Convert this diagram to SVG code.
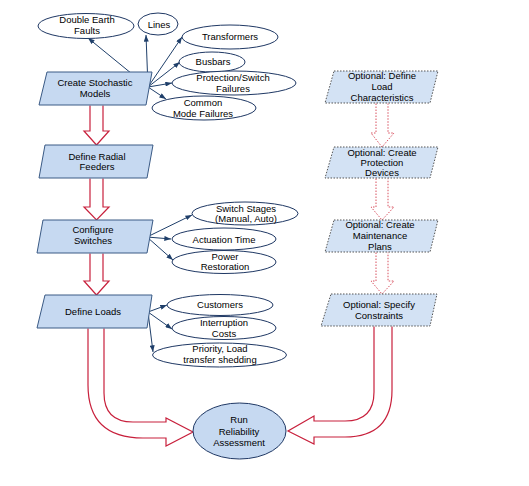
<svg xmlns="http://www.w3.org/2000/svg" width="529" height="486" viewBox="0 0 529 486">
<defs>
<marker id="ah" viewBox="0 0 8 6" refX="8" refY="3" markerWidth="7" markerHeight="5" markerUnits="userSpaceOnUse" orient="auto">
<path d="M0,0 L8,3 L0,6 Z" fill="#1F3F6A"/>
</marker>
</defs>
<style>
text{font-family:"Liberation Sans",Arial,sans-serif;font-size:9.5px;fill:#000;text-anchor:middle}
.step{fill:#C6D9F1;stroke:#3A5A85;stroke-width:1}
.opt{fill:#D3E2F4;stroke:#555;stroke-width:1;stroke-dasharray:1.5 1.5}
.ell{fill:#fff;stroke:#1F3864;stroke-width:1}
.run{fill:#C6D9F1;stroke:#1F3864;stroke-width:1}
.link{stroke:#1F3F6A;stroke-width:1;fill:none;marker-end:url(#ah)}
.big{fill:#fff;stroke:#C8203C;stroke-width:1.2;stroke-linejoin:miter}
.dot{fill:#fff;stroke:#D8505F;stroke-width:1;stroke-dasharray:1.5 1.5}
</style>
<rect width="529" height="486" fill="#fff"/>

<g id="connectors">
<path class="big" d="M90,105.5 V131 H84 L96.5,145 L109,131 H103 V105.5"/>
<path class="big" d="M90,178.5 V207 H84 L96.5,220 L109,207 H103 V178.5"/>
<path class="big" d="M90,253.5 V281 H84 L96.5,295 L109,281 H103 V253.5"/>
<path class="big" d="M88,328.5 V385 Q88,438 143,438 H166 V446 L193,432 L166,418 V422 H133 Q104,422 104,393 V328.5"/>
<path class="big" d="M374,326.5 V392 Q374,421 345,421 H314 V416 L288,431 L314,444 V437 H345 Q392,437 392,390 V326.5"/>
<path class="dot" d="M376,103.5 V133 H371 L382,147 L394,133 H388 V103.5"/>
<path class="dot" d="M376,178.5 V207 H371 L382,220 L394,207 H388 V178.5"/>
<path class="dot" d="M376,252.5 V281 H371 L382,294 L394,281 H388 V252.5"/>
<line class="link" x1="148" y1="87" x2="88" y2="38"/>
<line class="link" x1="148" y1="87" x2="146" y2="35"/>
<line class="link" x1="148" y1="87" x2="182" y2="37"/>
<line class="link" x1="148" y1="87" x2="180" y2="62"/>
<line class="link" x1="148" y1="87" x2="172" y2="83"/>
<line class="link" x1="148" y1="87" x2="166" y2="99"/>
<line class="link" x1="147" y1="237" x2="192" y2="215"/>
<line class="link" x1="147" y1="237" x2="171" y2="239"/>
<line class="link" x1="147" y1="237" x2="173" y2="260"/>
<line class="link" x1="148" y1="312" x2="167" y2="305"/>
<line class="link" x1="148" y1="312" x2="172" y2="329"/>
<line class="link" x1="148" y1="312" x2="153" y2="352"/>
</g>

<g id="create-stochastic-models">
<polygon class="step" points="47,72 152,72 146,105 39,105"/>
<text x="95" y="86">Create Stochastic</text>
<text x="95" y="97">Models</text>
</g>
<g id="double-earth-faults">
<ellipse class="ell" cx="86" cy="26" rx="48" ry="12.5"/>
<text x="87" y="23">Double Earth</text>
<text x="87" y="34">Faults</text>
</g>
<g id="lines">
<ellipse class="ell" cx="158" cy="24" rx="20" ry="11"/>
<text x="159" y="28">Lines</text>
</g>
<g id="transformers">
<ellipse class="ell" cx="230" cy="37" rx="48" ry="12"/>
<text x="230" y="40">Transformers</text>
</g>
<g id="busbars">
<ellipse class="ell" cx="212" cy="62" rx="33" ry="10"/>
<text x="213" y="65">Busbars</text>
</g>
<g id="protection-switch-failures">
<ellipse class="ell" cx="234" cy="83" rx="62" ry="12"/>
<text x="233" y="81">Protection/Switch</text>
<text x="233" y="92">Failures</text>
</g>
<g id="common-mode-failures">
<ellipse class="ell" cx="204" cy="108" rx="52" ry="12"/>
<text x="203" y="106">Common</text>
<text x="203" y="117">Mode Failures</text>
</g>

<g id="define-radial-feeders">
<polygon class="step" points="45,145 153,145 147,178 39,178"/>
<text x="97" y="160">Define Radial</text>
<text x="97" y="170">Feeders</text>
</g>

<g id="configure-switches">
<polygon class="step" points="43,220 153,220 147,253 37,253"/>
<text x="93" y="233">Configure</text>
<text x="93" y="244">Switches</text>
</g>
<g id="switch-stages">
<ellipse class="ell" cx="245" cy="213.5" rx="53" ry="11.5"/>
<text x="246" y="212">Switch Stages</text>
<text x="246" y="222">(Manual, Auto)</text>
</g>
<g id="actuation-time">
<ellipse class="ell" cx="224" cy="239" rx="52" ry="11"/>
<text x="224" y="243">Actuation Time</text>
</g>
<g id="power-restoration">
<ellipse class="ell" cx="224" cy="262" rx="52" ry="11.5"/>
<text x="225" y="260">Power</text>
<text x="225" y="270">Restoration</text>
</g>

<g id="define-loads">
<polygon class="step" points="45,295 152,295 147,328 37,328"/>
<text x="93" y="315">Define Loads</text>
</g>
<g id="customers">
<ellipse class="ell" cx="220" cy="305" rx="53" ry="10.5"/>
<text x="220" y="308">Customers</text>
</g>
<g id="interruption-costs">
<ellipse class="ell" cx="224" cy="328" rx="52" ry="11.5"/>
<text x="224" y="326">Interruption</text>
<text x="224" y="337">Costs</text>
</g>
<g id="priority-load-transfer-shedding">
<ellipse class="ell" cx="219.5" cy="355" rx="67" ry="12"/>
<text x="220" y="352">Priority, Load</text>
<text x="220" y="363">transfer shedding</text>
</g>

<g id="optional-define-load-characteristics">
<polygon class="opt" points="334,71 438,71 430,103 325,103"/>
<text x="382" y="79">Optional: Define</text>
<text x="382" y="90">Load</text>
<text x="382" y="101">Characteristics</text>
</g>
<g id="optional-create-protection-devices">
<polygon class="opt" points="334,147 438,147 430,178 325,178"/>
<text x="382" y="156">Optional: Create</text>
<text x="382" y="166">Protection</text>
<text x="382" y="176">Devices</text>
</g>
<g id="optional-create-maintenance-plans">
<polygon class="opt" points="334,220 438,220 430,252 325,252"/>
<text x="380" y="228">Optional: Create</text>
<text x="380" y="239">Maintenance</text>
<text x="380" y="250">Plans</text>
</g>
<g id="optional-specify-constraints">
<polygon class="opt" points="331,294 437,294 430,326 321,326"/>
<text x="379" y="308">Optional: Specify</text>
<text x="379" y="319">Constraints</text>
</g>

<g id="run-reliability-assessment">
<ellipse class="run" cx="239.5" cy="431" rx="46.5" ry="28"/>
<text x="239" y="423">Run</text>
<text x="239" y="435">Reliability</text>
<text x="239" y="446">Assessment</text>
</g>
</svg>
